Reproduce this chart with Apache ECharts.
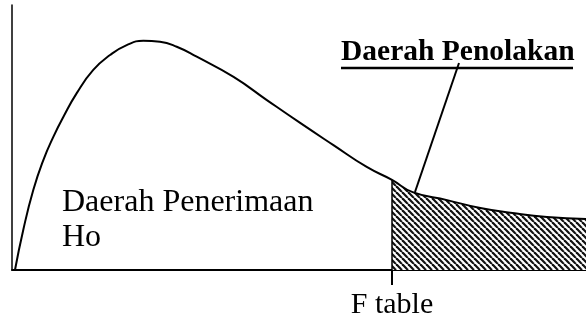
<!DOCTYPE html>
<html>
<head>
<meta charset="utf-8">
<script src="https://cdn.jsdelivr.net/npm/echarts@6/dist/echarts.min.js"></script>
<style>
  html, body { margin: 0; padding: 0; background: #fff; }
  #main { width: 586px; height: 320px; }
</style>
</head>
<body>
<div id="main"></div>
<script>
// F distribution curve
const xs = [0.026, 0.098, 0.186, 0.273, 0.360, 0.447, 0.564, 0.708, 0.854, 0.999, 1.144, 1.289, 1.435, 1.609,
            1.93, 2.22, 2.51, 2.80, 3.09, 3.31, 3.49, 3.79, 4.08, 4.36, 4.66, 5.0];
const ys = [0.0, 0.121, 0.242, 0.332, 0.402, 0.462, 0.534, 0.604, 0.649, 0.679, 0.692, 0.689, 0.674, 0.644,
            0.583, 0.513, 0.444, 0.377, 0.311, 0.272, 0.235, 0.211, 0.187, 0.172, 0.160, 0.154];
const fTable = 3.31;
const fLabel = 'F table';
const acceptText = ['Daerah Penerimaan', 'Ho'];
const rejectText = 'Daerah Penolakan';

const curve = xs.map((x, i) => [x, ys[i]]);
const tail = curve.filter(p => p[0] >= fTable);
const fY = ys[xs.indexOf(fTable)];

// hatch pattern  \\\\
function hatch() {
    const c = document.createElement('canvas');
    c.width = 6; c.height = 6;
    const ctx = c.getContext('2d');
    ctx.fillStyle = '#fff';
    ctx.fillRect(0, 0, 6, 6);
    ctx.strokeStyle = '#111';
    ctx.lineWidth = 2.2;
    for (let k = -6; k <= 6; k += 6) {
        ctx.beginPath();
        ctx.moveTo(k, 0);
        ctx.lineTo(k + 6, 6);
        ctx.stroke();
    }
    return c;
}

const serif = 'Liberation Serif, Times New Roman, serif';
const chart = echarts.init(document.getElementById('main'));

chart.setOption({
    animation: false,
    grid: {left: 12, right: 0, top: 5, bottom: 50},
    xAxis: {
        type: 'value', min: 0, max: 5,
        axisLine: {lineStyle: {color: '#000', width: 2}},
        splitLine: {show: false},
        axisTick: {show: true, customValues: [fTable], length: 15, lineStyle: {color: '#000', width: 2}},
        axisLabel: {
            customValues: [fTable], formatter: () => fLabel, margin: 20,
            color: '#000', fontSize: 30, fontFamily: serif
        }
    },
    yAxis: {
        type: 'value', min: 0, max: 0.8,
        axisLine: {show: true, lineStyle: {color: '#000', width: 1.5}},
        splitLine: {show: false},
        axisTick: {show: false},
        axisLabel: {show: false}
    },
    series: [
        {
            type: 'line', data: tail, smooth: true, showSymbol: false,
            lineStyle: {width: 0},
            areaStyle: {color: {image: hatch(), repeat: 'repeat'}, opacity: 1},
            markLine: {
                silent: true, symbol: 'none', label: {show: false},
                lineStyle: {color: '#000', width: 1.5, type: 'solid'},
                data: [[{coord: [fTable, 0]}, {coord: [fTable, fY]}]]
            },
            z: 1
        },
        {
            type: 'line', data: curve, smooth: true, showSymbol: false,
            lineStyle: {color: '#000', width: 2},
            z: 3
        }
    ],
    graphic: [
        {type: 'text', left: 62, top: 187, style: {text: acceptText[0], font: '32px ' + serif, fill: '#000'}},
        {type: 'text', left: 62, top: 222, style: {text: acceptText[1], font: '32px ' + serif, fill: '#000'}},
        {type: 'text', left: 341, top: 37, style: {text: rejectText, font: 'bold 29.5px ' + serif, fill: '#000'}},
        {type: 'line', shape: {x1: 341, y1: 68, x2: 573, y2: 68}, style: {stroke: '#000', lineWidth: 2.5}},
        {type: 'line', shape: {x1: 459, y1: 63, x2: 415, y2: 192}, style: {stroke: '#000', lineWidth: 2}}
    ]
});
</script>
</body>
</html>
